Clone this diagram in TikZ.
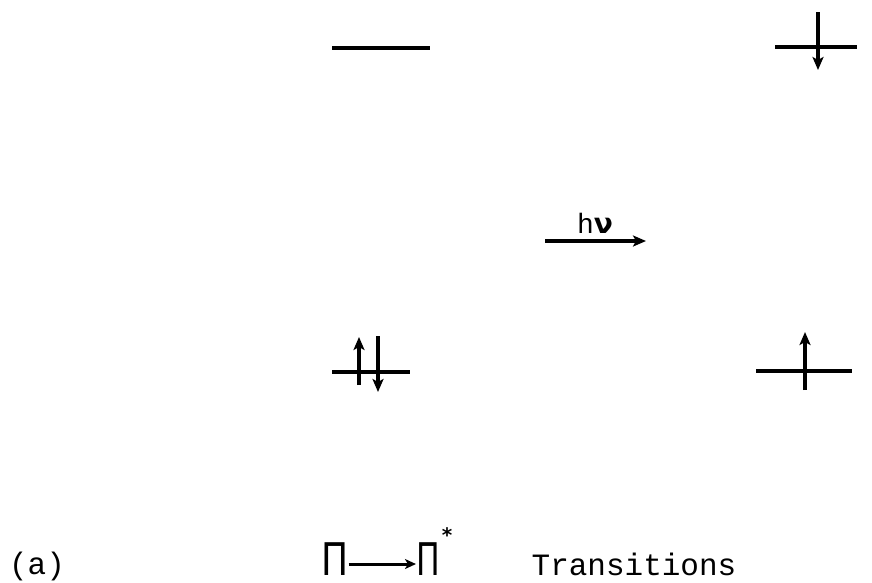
\documentclass[tikz,border=0pt]{standalone}
\usepackage{fontspec}
\newfontfamily\typefont{Liberation Mono}
\newfontfamily\symfont{DejaVu Sans}
\usetikzlibrary{arrows.meta}
\begin{document}
\begin{tikzpicture}[x=1pt,y=-1pt,
  level/.style={line width=3.4pt},
  spin/.style={line width=3.2pt,-{Stealth[length=13pt,width=11pt,inset=3pt]}},
  txt/.style={inner sep=0pt,font=\typefont\fontsize{31}{31}\selectfont},
  bigpi/.style={inner sep=0pt,anchor=base,font=\symfont\fontsize{45}{45}\selectfont}]
\useasboundingbox (0,0) rectangle (872,582);
% upper levels
\coordinate (ul1) at (332,48); \coordinate (ul2) at (430,48);
\draw[level] (ul1) -- (ul2);
\coordinate (ur1) at (775,47); \coordinate (ur2) at (857,47);
\draw[level] (ur1) -- (ur2);
\coordinate (dr1) at (818,12); \coordinate (dr2) at (818,70);
\draw[spin] (dr1) -- (dr2);
% lower levels
\coordinate (ll1) at (332,372); \coordinate (ll2) at (410,372);
\draw[level] (ll1) -- (ll2);
\coordinate (lu1) at (359,385); \coordinate (lu2) at (359,337);
\draw[spin] (lu1) -- (lu2);
\coordinate (ld1) at (378,336); \coordinate (ld2) at (378,392);
\draw[spin] (ld1) -- (ld2);
\coordinate (lr1) at (756,371); \coordinate (lr2) at (852,371);
\draw[level] (lr1) -- (lr2);
\coordinate (ru1) at (805,390); \coordinate (ru2) at (805,332);
\draw[spin] (ru1) -- (ru2);
% photon arrow
\coordinate (h1) at (545,241); \coordinate (h2) at (646,241);
\draw[spin] (h1) -- (h2);
\node[inner sep=0pt] (hnu) at (595,223) {\fontsize{28}{28}\selectfont{\typefont h}{\symfont\bfseries ν}};
% bottom caption
\node[txt] (lab) at (37,566) {(a)};
\node[bigpi] (pi1) at (335,575) {\scalebox{0.8}[1]{Π}};
\node[bigpi] (pi2) at (428,575) {\scalebox{0.7}[1]{Π}};
\node[inner sep=0pt,font=\symfont\bfseries\fontsize{20}{20}\selectfont] (star) at (447,535) {*};
\draw[line width=3pt,-{Stealth[length=11pt,width=10pt,inset=3pt]}] (pi1.east |- 0,564) -- (pi2.west |- 0,564);
\node[txt] (tr) at (634,564) {Transitions};
\end{tikzpicture}
\end{document}
